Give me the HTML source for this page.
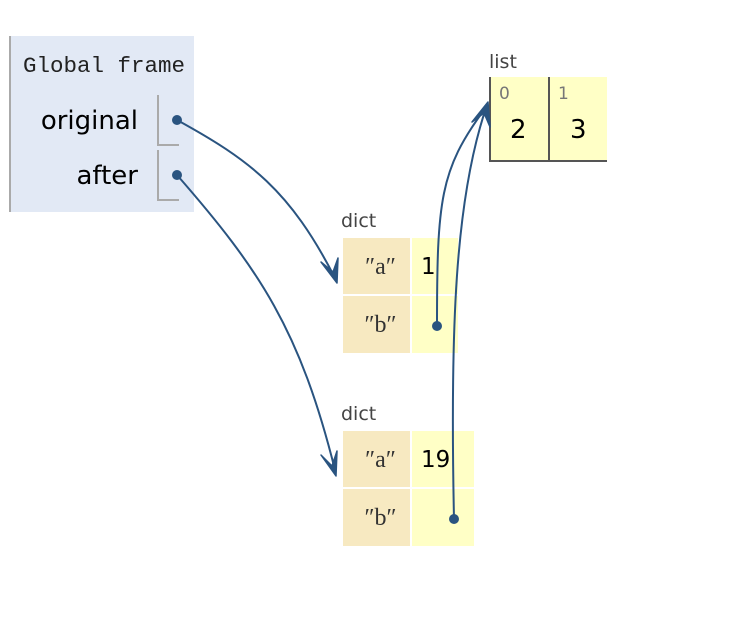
<!DOCTYPE html>
<html><head><style>
body{margin:0;width:729px;height:639px;background:#fff;position:relative;overflow:hidden;font-family:"DejaVu Sans",sans-serif}
.a{position:absolute}
.k{background:#f7e9c1;font-family:"Liberation Serif",serif;font-size:24px;color:#333;text-align:center;line-height:58px;padding-left:8px;box-sizing:border-box}
.v{background:#ffffc6;font-size:23px;line-height:58px;padding-left:9px;box-sizing:border-box}
.lbl{font-size:19px;color:#444}
</style></head><body>
<div class="a" style="left:9px;top:36px;width:185px;height:176px;background:#e2e9f5;border-left:2px solid #aaa;box-sizing:border-box"></div>
<div class="a" style="left:23px;top:53px;font-family:'Liberation Mono',monospace;font-size:22.5px;color:#222">Global frame</div>
<div class="a" style="left:10px;top:106px;width:128px;text-align:right;font-size:26px">original</div>
<div class="a" style="left:10px;top:161px;width:128px;text-align:right;font-size:26px">after</div>
<div class="a" style="left:157px;top:95px;width:20px;height:49px;border-left:2px solid #aaa;border-bottom:2px solid #aaa"></div>
<div class="a" style="left:157px;top:150px;width:20px;height:49px;border-left:2px solid #aaa;border-bottom:2px solid #aaa"></div>

<div class="a lbl" style="left:489px;top:51px">list</div>
<div class="a" style="left:489px;top:77px;width:118px;height:85px;background:#ffffc6;border-left:2px solid #555;border-bottom:2px solid #555;box-sizing:border-box"></div>
<div class="a" style="left:548px;top:77px;width:2px;height:85px;background:#555"></div>
<div class="a" style="left:499px;top:84px;font-size:17px;color:#777">0</div>
<div class="a" style="left:558px;top:84px;font-size:17px;color:#777">1</div>
<div class="a" style="left:510px;top:115px;font-size:26px">2</div>
<div class="a" style="left:570px;top:115px;font-size:26px">3</div>

<div class="a lbl" style="left:341px;top:210px">dict</div>
<div class="a k" style="left:343px;top:238px;width:67px;height:56px">″a″</div>
<div class="a v" style="left:412px;top:238px;width:46px;height:56px">1</div>
<div class="a k" style="left:343px;top:296px;width:67px;height:57px">″b″</div>
<div class="a v" style="left:412px;top:296px;width:46px;height:57px"></div>

<div class="a lbl" style="left:341px;top:403px">dict</div>
<div class="a k" style="left:343px;top:431px;width:67px;height:56px">″a″</div>
<div class="a v" style="left:412px;top:431px;width:62px;height:56px">19</div>
<div class="a k" style="left:343px;top:489px;width:67px;height:57px">″b″</div>
<div class="a v" style="left:412px;top:489px;width:62px;height:57px"></div>

<svg class="a" style="left:0;top:0" width="729" height="639">
<g stroke="#2a5480" stroke-width="2" fill="none">
<path d="M177 120 C250 160 290 190 335 278"/>
<path d="M177 175 C260 270 300 330 335 470"/>
<path d="M437 326 C437 200 440 170 484 110"/>
<path d="M454 519 C450 330 455 200 486 108"/>
</g>
<g fill="#2a5480" stroke="#2a5480" stroke-width="1.5" stroke-linejoin="round">
<path d="M321 262 L337 283 L338 258 L333 272 Z"/>
<path d="M321 455 L336 476 L337 451 L332 466 Z"/>
<path d="M472 122 L488 102 L490 127 L484 113 Z"/>
</g>
<g fill="#2a5480">
<circle cx="177" cy="120" r="5"/><circle cx="177" cy="175" r="5"/>
<circle cx="437" cy="326" r="5"/><circle cx="454" cy="519" r="5"/>
</g>
</svg>
</body></html>
